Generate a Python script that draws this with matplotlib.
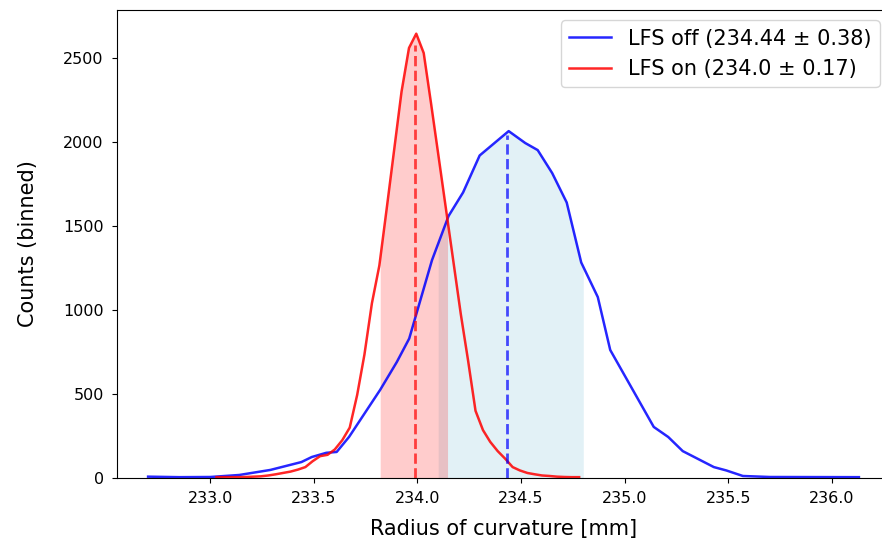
import numpy as np
import matplotlib
matplotlib.use("Agg")
import matplotlib.pyplot as plt

# binned counts (bin centre, counts)
off_x = [232.70, 232.85, 233.00, 233.14, 233.29, 233.44, 233.49, 233.56, 233.61, 233.67,
         233.82, 233.90, 233.96, 234.07, 234.15, 234.17, 234.22, 234.30, 234.44, 234.52,
         234.58, 234.65, 234.72, 234.79, 234.87, 234.93, 235.14, 235.21, 235.28, 235.43,
         235.49, 235.57, 235.70, 236.13]
off_y = [8, 5, 6, 18, 48, 95, 125, 150, 155, 245,
         525, 690, 830, 1297, 1560, 1600, 1700, 1920, 2065, 1994,
         1952, 1815, 1640, 1283, 1077, 762, 304, 244, 160, 65,
         45, 12, 6, 5]

on_x = [233.030, 233.066, 233.101, 233.137, 233.173, 233.209, 233.244, 233.280, 233.316, 233.351,
        233.387, 233.423, 233.459, 233.494, 233.530, 233.566, 233.601, 233.637, 233.673, 233.709,
        233.744, 233.780, 233.816, 233.851, 233.887, 233.923, 233.959, 233.994, 234.030, 234.066,
        234.101, 234.137, 234.173, 234.209, 234.244, 234.280, 234.316, 234.351, 234.387, 234.423,
        234.459, 234.494, 234.530, 234.566, 234.601, 234.637, 234.673, 234.709, 234.744, 234.780]
on_y = [5, 5, 5, 5, 6, 8, 10, 15, 22, 30,
        38, 50, 65, 100, 130, 138, 170, 225, 300, 495,
        735, 1040, 1265, 1600, 1950, 2300, 2560, 2645, 2530, 2225,
        1920, 1605, 1290, 975, 700, 400, 285, 215, 160, 115,
        65, 45, 30, 22, 15, 12, 8, 6, 5, 5]

off_mean, off_std = 234.44, 0.38
on_mean, on_std = 234.0, 0.17
off_band = (234.10, 234.80)   # shaded region as drawn in the reference
on_band = (233.82, 234.145)

off_x, off_y = np.array(off_x), np.array(off_y)
on_x, on_y = np.array(on_x), np.array(on_y)


def band(x, y, lo, hi):
    xx = np.concatenate([[lo], x[(x > lo) & (x < hi)], [hi]])
    return xx, np.interp(xx, x, y)


fig = plt.figure(figsize=(8.82, 5.49), dpi=100)
ax = fig.add_axes([117 / 882, 71 / 549, 773 / 882, 468 / 549])

bx, by = band(off_x, off_y, *off_band)
ax.fill_between(bx, by, color="lightblue", alpha=0.35, linewidth=0)
rx, ry = band(on_x, on_y, *on_band)
ax.fill_between(rx, ry, color="red", alpha=0.2, linewidth=0)

ax.plot(off_x, off_y, color="blue", alpha=0.85, linewidth=1.8,
        label=f"LFS off ({off_mean} ± {off_std})")
ax.plot(on_x, on_y, color="red", alpha=0.85, linewidth=1.8,
        label=f"LFS on ({on_mean} ± {on_std})")

ax.vlines(off_mean - 0.01, 0, np.interp(off_mean, off_x, off_y) - 25, color="blue",
          linestyle="--", linewidth=2.0, alpha=0.7)
ax.vlines(on_mean - 0.01, 0, np.interp(on_mean, on_x, on_y) - 50, color="red",
          linestyle="--", linewidth=2.0, alpha=0.7)

ax.set_xlim(232.55, 236.28)
ax.set_ylim(0, 2786)
ax.set_xticks([233.0, 233.5, 234.0, 234.5, 235.0, 235.5, 236.0])
ax.tick_params(labelsize=11.5, pad=6)
ax.set_xlabel("Radius of curvature [mm]", fontsize=15, labelpad=9)
ax.set_ylabel("Counts (binned)", fontsize=15, labelpad=18)
ax.legend(loc="upper right", fontsize=15)

plt.savefig("out.png", dpi=100)
